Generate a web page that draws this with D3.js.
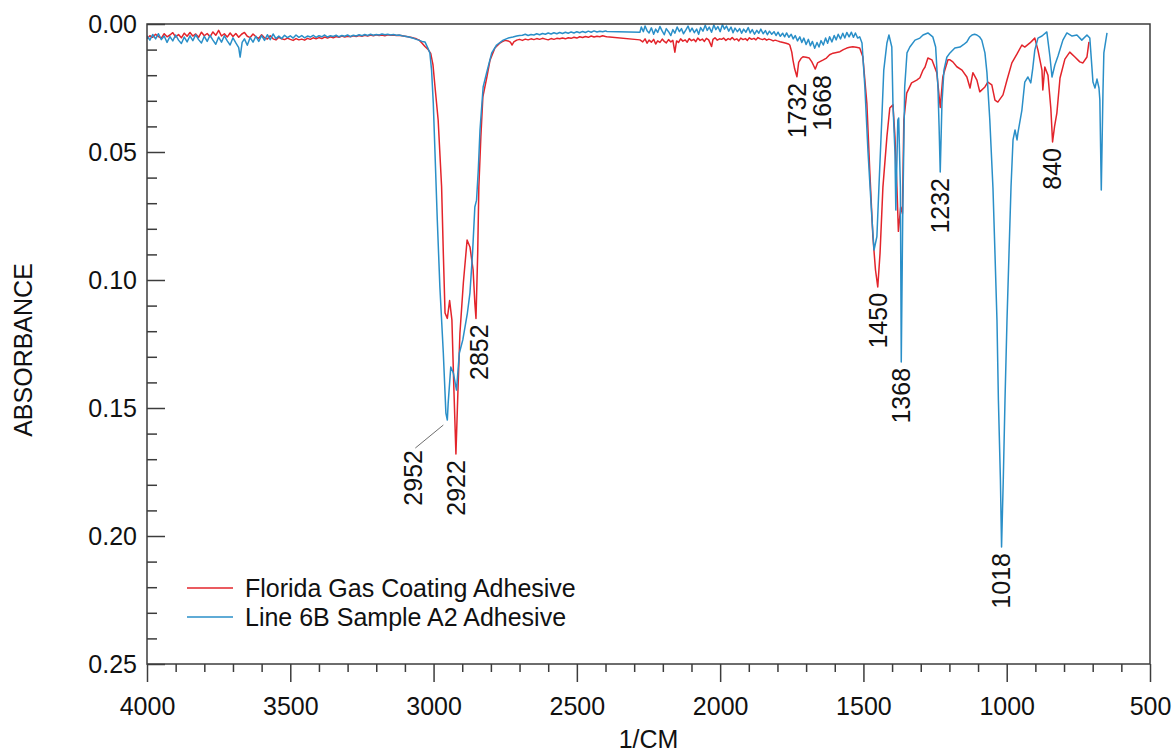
<!DOCTYPE html>
<html>
<head>
<meta charset="utf-8">
<script src="https://cdn.jsdelivr.net/npm/d3@7"></script>
<style>
  html, body { margin: 0; padding: 0; background: #ffffff; }
  svg { display: block; font-family: "Liberation Sans", Arial, Helvetica, sans-serif; }
</style>
</head>
<body>
<svg id="chart" width="1174" height="755"></svg>
<script>
// ---- Data: FTIR absorbance spectra, [wavenumber (1/cm), absorbance] ----
const seriesNames = ["Florida Gas Coating Adhesive", "Line 6B Sample A2 Adhesive"];

const floridaGas = [
  [4000,.0058],[3990,.0046],[3980,.0052],[3970,.0040],[3960,.0049],[3950,.0055],[3940,.0038],[3930,.0050],
  [3920,.0043],[3910,.0034],[3900,.0051],[3890,.0041],[3880,.0054],[3870,.0036],[3860,.0048],[3850,.0033],
  [3840,.0047],[3830,.0039],[3820,.0052],[3810,.0032],[3800,.0046],[3790,.0037],[3780,.0050],[3770,.0031],
  [3760,.0044],[3750,.0025],[3740,.0047],[3730,.0038],[3720,.0051],[3710,.0035],[3700,.0049],[3690,.0037],
  [3680,.0052],[3670,.0040],[3660,.0033],[3650,.0048],[3640,.0053],[3630,.0039],[3620,.0050],[3610,.0056],
  [3600,.0042],[3590,.0054],[3580,.0059],[3570,.0046],[3560,.0058],[3550,.0062],[3540,.0052],[3530,.0058],
  [3520,.0061],[3510,.0055],[3500,.0060],[3490,.0064],[3480,.0057],[3470,.0062],[3460,.0059],[3450,.0063],
  [3440,.0056],[3430,.0060],[3420,.0054],[3410,.0058],[3400,.0053],[3390,.0057],[3380,.0051],[3370,.0055],
  [3360,.0050],[3350,.0054],[3340,.0049],[3330,.0052],[3320,.0047],[3310,.0051],[3300,.0048],[3290,.0050],
  [3280,.0046],[3270,.0049],[3260,.0045],[3250,.0048],[3240,.0044],[3230,.0047],[3220,.0043],[3210,.0046],
  [3200,.0042],[3190,.0045],[3180,.0043],[3170,.0046],[3160,.0042],[3150,.0044],[3140,.0043],[3130,.0045],
  [3120,.0044],[3110,.0046],[3100,.0048],[3090,.0050],[3080,.0052],[3070,.0055],[3060,.0058],[3050,.0063],
  [3040,.0075],[3030,.0088],[3020,.0098],[3010,.0115],[3002,.0160],[2995,.0245],[2984,.0375],[2972,.0636],
  [2966,.0895],[2960,.1129],[2952,.1150],[2944,.1080],[2936,.1156],[2929,.1430],[2922,.1680],[2914,.1400],
  [2908,.1207],[2896,.1010],[2883,.0844],[2873,.0871],[2862,.0961],[2856,.1090],[2852,.1150],[2846,.0895],
  [2842,.0637],[2835,.0441],[2828,.0285],[2814,.0207],[2803,.0141],[2786,.0094],[2770,.0076],[2760,.0069],
  [2750,.0064],[2740,.0066],[2732,.0071],[2726,.0082],[2720,.0070],[2710,.0063],[2700,.0060],[2690,.0064],
  [2680,.0059],[2670,.0062],[2660,.0058],[2650,.0061],[2640,.0057],[2630,.0060],[2620,.0056],[2610,.0059],
  [2600,.0062],[2590,.0057],[2580,.0060],[2570,.0056],[2560,.0058],[2550,.0055],[2540,.0058],[2530,.0054],
  [2520,.0056],[2510,.0052],[2500,.0055],[2490,.0050],[2480,.0053],[2470,.0049],[2460,.0052],[2450,.0047],
  [2440,.0051],[2430,.0048],[2420,.0050],[2410,.0046],[2400,.0049],[2395,.0050],
  [2280,.0062],[2270,.0070],[2262,.0058],[2255,.0075],[2248,.0063],[2240,.0071],[2232,.0060],[2225,.0078],
  [2218,.0066],[2210,.0072],[2202,.0059],[2195,.0068],[2188,.0074],[2180,.0061],[2172,.0070],[2165,.0064],
  [2158,.0110],[2152,.0066],[2145,.0072],[2138,.0058],[2130,.0067],[2122,.0062],[2115,.0071],[2108,.0057],
  [2100,.0065],[2092,.0060],[2085,.0069],[2078,.0055],[2070,.0064],[2062,.0059],[2055,.0068],[2048,.0056],
  [2040,.0062],[2030,.0088],[2025,.0060],[2018,.0054],[2010,.0063],[2002,.0058],[1995,.0060],[1988,.0055],
  [1980,.0064],[1972,.0057],[1965,.0061],[1958,.0053],[1950,.0062],[1942,.0058],[1935,.0066],[1928,.0055],
  [1920,.0061],[1912,.0057],[1905,.0064],[1898,.0054],[1890,.0060],[1882,.0056],[1875,.0062],[1868,.0053],
  [1860,.0058],[1852,.0061],[1845,.0057],[1838,.0063],[1830,.0059],[1822,.0062],[1815,.0066],[1808,.0063],
  [1800,.0066],[1791,.0069],[1780,.0072],[1770,.0075],[1762,.0078],[1757,.0082],[1750,.0110],[1746,.0140],
  [1740,.0175],[1732,.0206],[1726,.0150],[1718,.0135],[1711,.0128],[1700,.0130],[1689,.0133],[1680,.0148],
  [1674,.0162],[1668,.0176],[1660,.0152],[1652,.0147],[1640,.0140],[1629,.0133],[1618,.0120],[1606,.0114],
  [1594,.0111],[1582,.0108],[1570,.0100],[1558,.0094],[1548,.0091],[1537,.0089],[1525,.0091],[1513,.0094],
  [1502,.0128],[1488,.0310],[1478,.0570],[1467,.0830],[1458,.0960],[1450,.1027],[1442,.0895],[1432,.0637],
  [1418,.0440],[1408,.0328],[1397,.0316],[1390,.0440],[1383,.0640],[1378,.0810],[1370,.0715],[1364,.0740],
  [1359,.0375],[1349,.0270],[1332,.0230],[1314,.0219],[1303,.0210],[1292,.0180],[1285,.0168],[1275,.0133],
  [1261,.0140],[1244,.0190],[1232,.0326],[1223,.0207],[1216,.0180],[1205,.0140],[1198,.0140],[1188,.0148],
  [1174,.0167],[1156,.0180],[1139,.0207],[1128,.0250],[1118,.0190],[1104,.0219],[1094,.0265],[1076,.0246],
  [1066,.0227],[1052,.0238],[1041,.0297],[1031,.0305],[1013,.0277],[999,.0219],[982,.0152],[964,.0117],
  [947,.0082],[937,.0090],[919,.0074],[909,.0063],[902,.0055],[891,.0102],[877,.0180],[874,.0258],
  [867,.0168],[856,.0200],[846,.0330],[840,.0461],[833,.0400],[825,.0348],[814,.0211],[797,.0137],
  [780,.0110],[762,.0129],[745,.0148],[734,.0152],[720,.0129],[713,.0070]
];

const line6B = [
  [4000,.0046],[3990,.0063],[3980,.0041],[3970,.0058],[3960,.0038],[3950,.0061],[3940,.0047],[3930,.0072],
  [3920,.0049],[3910,.0066],[3900,.0043],[3890,.0063],[3880,.0076],[3870,.0051],[3860,.0070],[3850,.0046],
  [3840,.0065],[3830,.0042],[3820,.0061],[3810,.0074],[3800,.0048],[3790,.0068],[3780,.0044],[3770,.0063],
  [3760,.0079],[3750,.0051],[3740,.0071],[3730,.0046],[3720,.0066],[3710,.0082],[3700,.0054],[3690,.0074],
  [3680,.0092],[3675,.0129],[3668,.0072],[3660,.0058],[3650,.0083],[3640,.0053],[3630,.0071],[3620,.0048],
  [3610,.0068],[3600,.0045],[3590,.0064],[3580,.0042],[3570,.0061],[3560,.0039],[3550,.0057],[3540,.0047],
  [3530,.0057],[3520,.0044],[3510,.0053],[3500,.0046],[3490,.0055],[3480,.0043],[3470,.0052],[3460,.0045],
  [3450,.0054],[3440,.0047],[3430,.0051],[3420,.0044],[3410,.0052],[3400,.0046],[3390,.0050],[3380,.0043],
  [3370,.0051],[3360,.0046],[3350,.0049],[3340,.0044],[3330,.0050],[3320,.0045],[3310,.0048],[3300,.0043],
  [3290,.0049],[3280,.0044],[3270,.0047],[3260,.0042],[3250,.0046],[3240,.0041],[3230,.0045],[3220,.0040],
  [3210,.0044],[3200,.0041],[3190,.0043],[3180,.0039],[3170,.0042],[3160,.0040],[3150,.0043],[3140,.0041],
  [3130,.0044],[3120,.0043],[3110,.0046],[3100,.0048],[3090,.0050],[3080,.0053],[3070,.0056],[3060,.0060],
  [3050,.0064],[3040,.0068],[3030,.0070],[3020,.0094],[3013,.0113],[3007,.0180],[3001,.0309],[2995,.0504],
  [2987,.0766],[2978,.1027],[2966,.1285],[2957,.1520],[2952,.1547],[2949,.1480],[2940,.1340],[2931,.1363],
  [2920,.1430],[2910,.1285],[2898,.1234],[2882,.1129],[2873,.1050],[2864,.0895],[2856,.0715],[2850,.0688],
  [2844,.0570],[2838,.0414],[2827,.0246],[2815,.0191],[2797,.0113],[2780,.0082],[2757,.0063],[2740,.0055],
  [2723,.0051],[2710,.0047],[2700,.0045],[2690,.0044],[2680,.0040],[2670,.0045],[2660,.0041],[2650,.0043],
  [2640,.0038],[2630,.0042],[2620,.0037],[2610,.0040],[2600,.0035],[2590,.0039],[2580,.0034],[2570,.0038],
  [2560,.0033],[2550,.0037],[2540,.0032],[2530,.0036],[2520,.0031],[2510,.0035],[2500,.0030],[2490,.0034],
  [2480,.0029],[2470,.0033],[2460,.0028],[2450,.0032],[2440,.0027],[2430,.0031],[2420,.0028],[2410,.0030],
  [2400,.0027],[2395,.0029],
  [2280,.0032],[2275,.0012],[2268,.0030],[2262,.0008],[2255,.0026],[2248,.0035],[2240,.0015],[2232,.0040],
  [2225,.0020],[2218,.0033],[2210,.0010],[2202,.0028],[2195,.0042],[2188,.0018],[2180,.0030],[2172,.0045],
  [2165,.0022],[2158,.0036],[2150,.0012],[2142,.0030],[2135,.0018],[2128,.0038],[2120,.0024],[2112,.0008],
  [2105,.0030],[2098,.0016],[2090,.0034],[2082,.0020],[2075,.0040],[2068,.0014],[2060,.0028],[2052,.0005],
  [2045,.0025],[2038,.0012],[2030,.0032],[2022,.0004],[2015,.0022],[2008,.0010],[2000,.0030],[1992,.0002],
  [1985,.0020],[1978,.0008],[1970,.0028],[1962,.0012],[1955,.0034],[1948,.0016],[1940,.0030],[1932,.0018],
  [1925,.0036],[1918,.0020],[1910,.0032],[1902,.0014],[1895,.0035],[1888,.0022],[1880,.0040],[1872,.0025],
  [1865,.0036],[1858,.0020],[1850,.0038],[1842,.0026],[1835,.0042],[1828,.0028],[1820,.0040],[1812,.0030],
  [1805,.0045],[1798,.0032],[1790,.0048],[1782,.0036],[1775,.0050],[1768,.0035],[1760,.0052],[1752,.0040],
  [1745,.0058],[1738,.0045],[1730,.0066],[1722,.0050],[1715,.0072],[1708,.0055],[1700,.0080],[1692,.0060],
  [1685,.0085],[1678,.0068],[1670,.0095],[1662,.0072],[1655,.0090],[1648,.0065],[1640,.0082],[1632,.0055],
  [1625,.0075],[1618,.0050],[1610,.0070],[1602,.0045],[1595,.0062],[1588,.0040],[1580,.0058],[1572,.0036],
  [1565,.0055],[1558,.0033],[1550,.0050],[1542,.0032],[1535,.0052],[1528,.0035],[1520,.0055],[1513,.0050],
  [1505,.0074],[1495,.0246],[1484,.0500],[1470,.0766],[1463,.0883],[1453,.0830],[1446,.0640],[1436,.0375],
  [1429,.0180],[1418,.0074],[1411,.0043],[1401,.0090],[1397,.0310],[1390,.0500],[1387,.0727],[1380,.0375],
  [1377,.0367],[1371,.0640],[1368,.1320],[1363,.0766],[1356,.0246],[1348,.0113],[1338,.0090],[1320,.0063],
  [1303,.0055],[1292,.0043],[1275,.0035],[1258,.0050],[1248,.0090],[1240,.0246],[1236,.0400],[1232,.0578],
  [1226,.0310],[1219,.0180],[1209,.0130],[1198,.0113],[1181,.0094],[1163,.0090],[1150,.0080],[1139,.0070],
  [1130,.0052],[1121,.0043],[1112,.0040],[1104,.0043],[1095,.0050],[1087,.0063],[1076,.0113],[1069,.0190],
  [1059,.0375],[1048,.0640],[1041,.0895],[1034,.1156],[1029,.1470],[1022,.1780],[1018,.2043],[1012,.1780],
  [1006,.1470],[999,.1156],[992,.0895],[985,.0637],[978,.0453],[971,.0414],[964,.0453],[961,.0426],
  [947,.0336],[937,.0227],[926,.0207],[916,.0230],[909,.0172],[902,.0102],[891,.0055],[877,.0047],
  [860,.0031],[849,.0129],[842,.0207],[832,.0160],[821,.0125],[804,.0063],[790,.0035],[772,.0047],
  [755,.0043],[738,.0063],[720,.0043],[710,.0055],[699,.0227],[692,.0250],[685,.0215],[678,.0250],
  [675,.0297],[670,.0648],[664,.0258],[661,.0113],[650,.0035]
];

// Axis ticks
const xMajorTicks = [4000, 3500, 3000, 2500, 2000, 1500, 1000, 500];
const xMinorTicks = d3.range(500, 4001, 100).filter(v => v % 500 !== 0);
const yMajorTicks = [0, 0.05, 0.10, 0.15, 0.20, 0.25];
const yMinorTicks = d3.range(1, 25).filter(v => v % 5 !== 0).map(v => v / 100);

// Peak annotations: wavenumber and which spectrum (0 = Florida Gas, 1 = Line 6B)
const peakLabels = [
  { text: "2952", wn: 2952, series: 1 },
  { text: "2922", wn: 2922, series: 0 },
  { text: "2852", wn: 2852, series: 0 },
  { text: "1732", wn: 1732, series: 0 },
  { text: "1668", wn: 1668, series: 0 },
  { text: "1450", wn: 1450, series: 0 },
  { text: "1368", wn: 1368, series: 1 },
  { text: "1232", wn: 1232, series: 1 },
  { text: "1018", wn: 1018, series: 1 },
  { text: "840",  wn: 840,  series: 0 }
];

// ---- Layout ----
const plot = { left: 147, top: 24, right: 1150, bottom: 664 };
const fontSize = 25;
const axisColor = "#3c3c3c";
const seriesColors = ["#e3242b", "#2a8fc8"];
const allSeries = [floridaGas, line6B];

const x = d3.scaleLinear().domain([4000, 500]).range([plot.left, plot.right]);
const y = d3.scaleLinear().domain([0, 0.25]).range([plot.top, plot.bottom]);

const svg = d3.select("#chart");
svg.append("rect").attr("width", 1174).attr("height", 755).attr("fill", "#ffffff");

svg.append("defs").append("clipPath").attr("id", "plotClip")
  .append("rect")
  .attr("x", plot.left).attr("y", plot.top - 1)
  .attr("width", plot.right - plot.left).attr("height", plot.bottom - plot.top + 1);

// ---- Spectra ----
const line = d3.line().x(d => x(d[0])).y(d => y(d[1]));
const linesG = svg.append("g").attr("clip-path", "url(#plotClip)");
allSeries.forEach((data, i) => {
  linesG.append("path")
    .datum(data)
    .attr("fill", "none")
    .attr("stroke", seriesColors[i])
    .attr("stroke-width", 1.5)
    .attr("stroke-linejoin", "round")
    .attr("d", line);
});

// ---- Axes ----
function styleAxis(g) {
  g.select(".domain").remove();
  g.selectAll(".tick line").attr("stroke", axisColor).attr("stroke-width", 1.5);
  g.selectAll(".tick text").attr("fill", "#111").attr("font-size", fontSize)
    .attr("font-family", '"Liberation Sans", Arial, Helvetica, sans-serif');
}

// x axis: major ticks with labels, minor ticks, all pointing outward
svg.append("g")
  .attr("transform", `translate(0,${plot.bottom})`)
  .call(d3.axisBottom(x).tickValues(xMajorTicks).tickSize(18).tickPadding(15).tickFormat(d3.format("d")))
  .call(styleAxis);
svg.append("g")
  .attr("transform", `translate(0,${plot.bottom})`)
  .call(d3.axisBottom(x).tickValues(xMinorTicks).tickSize(8).tickFormat(""))
  .call(styleAxis);

// y axis: labels on the left, ticks pointing inward
svg.append("g")
  .attr("transform", `translate(${plot.left},0)`)
  .call(d3.axisLeft(y).tickValues(yMajorTicks).tickSize(0).tickPadding(10).tickFormat(d3.format(".2f")))
  .call(styleAxis);
svg.append("g")
  .attr("transform", `translate(${plot.left},0)`)
  .call(d3.axisRight(y).tickValues(yMajorTicks).tickSize(18).tickFormat(""))
  .call(styleAxis);
svg.append("g")
  .attr("transform", `translate(${plot.left},0)`)
  .call(d3.axisRight(y).tickValues(yMinorTicks).tickSize(10).tickFormat(""))
  .call(styleAxis);

// frame
svg.append("rect")
  .attr("x", plot.left).attr("y", plot.top)
  .attr("width", plot.right - plot.left).attr("height", plot.bottom - plot.top)
  .attr("fill", "none").attr("stroke", axisColor).attr("stroke-width", 1.5);

// axis titles
svg.append("text")
  .attr("x", (plot.left + plot.right) / 2).attr("y", 748)
  .attr("text-anchor", "middle").attr("font-size", fontSize).attr("fill", "#111")
  .text("1/CM");
svg.append("text")
  .attr("transform", `translate(23,${(plot.top + plot.bottom) / 2 + 6}) rotate(-90)`)
  .attr("text-anchor", "middle").attr("dy", "0.35em")
  .attr("font-size", fontSize).attr("fill", "#111")
  .text("ABSORBANCE");

// ---- Peak labels ----
const labelStyle = {
  "2952": { dx: -34, gap: 30, leader: true },
  "2852": { dx: 3 },
  "1668": { dx: 7 }
};
const labelsG = svg.append("g").attr("font-size", fontSize).attr("fill", "#111");
peakLabels.forEach(p => {
  const pt = allSeries[p.series].find(d => d[0] === p.wn);
  const st = labelStyle[p.text] || {};
  const px = x(p.wn), py = y(pt[1]);
  const lx = px + (st.dx || 0);
  const ly = py + (st.gap !== undefined ? st.gap : 6);
  if (st.leader) {
    labelsG.append("line")
      .attr("x1", px - 4).attr("y1", py + 5)
      .attr("x2", lx + 2).attr("y2", ly - 2)
      .attr("stroke", "#6e6e6e").attr("stroke-width", 1);
  }
  labelsG.append("text")
    .attr("transform", `translate(${lx},${ly}) rotate(-90)`)
    .attr("text-anchor", "end")
    .attr("dy", "0.35em")
    .text(p.text);
});

// ---- Legend ----
const legendG = svg.append("g").attr("font-size", fontSize).attr("fill", "#111");
seriesNames.forEach((name, i) => {
  const ly = 588 + i * 29;
  legendG.append("line")
    .attr("x1", 187).attr("x2", 233).attr("y1", ly).attr("y2", ly)
    .attr("stroke", seriesColors[i]).attr("stroke-width", 1.5);
  legendG.append("text")
    .attr("x", 245).attr("y", ly).attr("dy", "0.35em")
    .text(name);
});
</script>
</body>
</html>
